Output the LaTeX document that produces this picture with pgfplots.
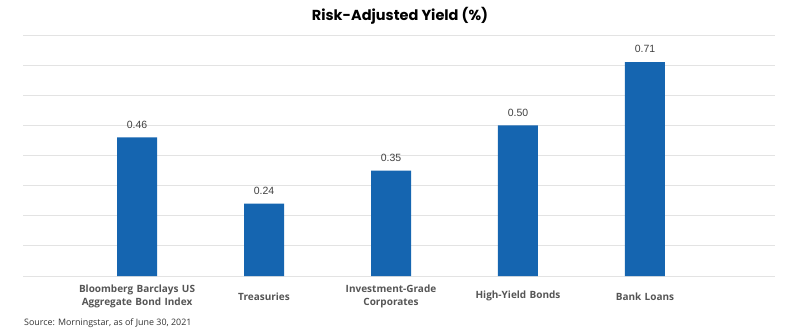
\documentclass[border=0pt]{standalone}
\usepackage{fontspec}
\setmainfont{Open Sans}
\newfontfamily\titlefont{Poppins}[BoldFont={Poppins Bold}]
\newfontfamily\valfont{Liberation Sans}
\usepackage{pgfplots}
\pgfplotsset{compat=1.18}
\definecolor{barblue}{HTML}{1565B0}
\definecolor{gridgrey}{HTML}{E3E3E3}
\definecolor{ticklab}{HTML}{555555}
\definecolor{valgrey}{HTML}{404040}
\definecolor{srcgrey}{HTML}{333333}
\begin{document}
\begin{tikzpicture}
\path[use as bounding box] (0pt,0pt) rectangle (800pt,330pt);
\begin{axis}[
  at={(23pt,54pt)}, anchor=south west,
  scale only axis, width=752pt, height=241pt,
  xmin=-0.898, xmax=5.024, ymin=0, ymax=0.8,
  ytick={0,0.1,...,0.8}, yticklabels={},
  ymajorgrids, grid style={gridgrey, line width=1pt},
  axis line style={draw=none}, tick style={draw=none},
  xtick=data,
  xticklabels={{Bloomberg Barclays US\\Aggregate Bond Index},{Treasuries},{Investment-Grade\\Corporates},{High-Yield Bonds},{Bank Loans}},
  xticklabel style={anchor=center, yshift=-16pt, text width=140pt, align=center, font=\fontsize{10}{12.4}\selectfont\bfseries, text=ticklab, inner sep=0pt},
  ybar, bar width=40pt,
  nodes near coords,
  nodes near coords style={font=\valfont\fontsize{10.5}{12}\selectfont, text=valgrey, anchor=south, inner sep=0pt, yshift=9pt, /pgf/number format/fixed, /pgf/number format/fixed zerofill, /pgf/number format/precision=2, /pgf/number format/assume math mode=true},
]
\addplot[fill=barblue, draw=none] coordinates {(0,0.46) (1,0.24) (2,0.35) (3,0.50) (4,0.71)};
\end{axis}
\node[font=\titlefont\bfseries\fontsize{14.5}{16}\selectfont, text=black] at (400pt,314pt) {Risk-Adjusted Yield (\%)};
\node[anchor=base west, inner sep=0pt, font=\fontsize{8.9}{10}\selectfont, text=srcgrey] at (24pt,5pt) {Source: Morningstar, as of June 30, 2021};
\end{tikzpicture}
\end{document}
